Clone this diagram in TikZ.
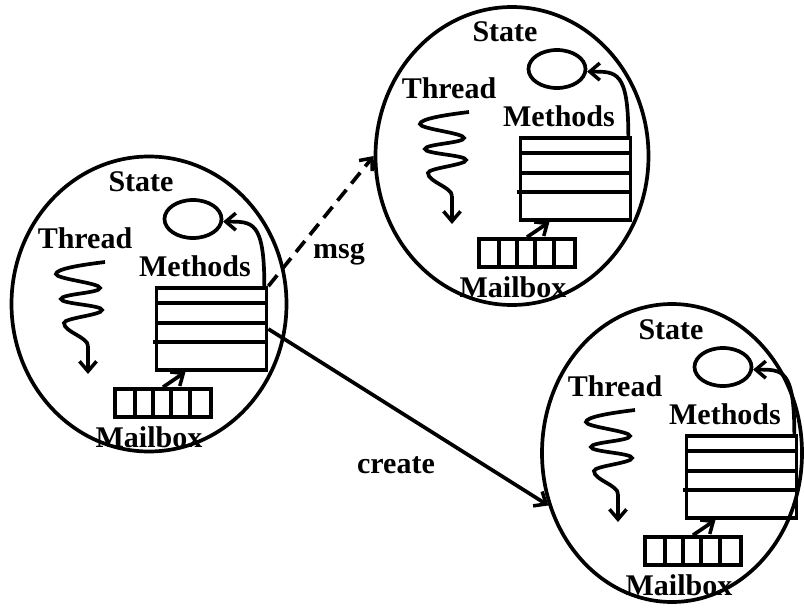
\documentclass[tikz,border=0pt]{standalone}
\usepackage{fontspec}
\setmainfont{Liberation Serif}
\usetikzlibrary{arrows.meta,shapes.geometric}
\tikzset{
  lbl/.style={font=\bfseries\fontsize{30}{32}\selectfont, inner sep=0pt, anchor=base},
  thick3/.style={line width=3.7pt},
  arr/.style={thick3, -{Straight Barb[length=10pt,width=17pt,line width=3.5pt]}},
  actorell/.style={draw, ellipse, thick3, inner sep=0pt},
  boxstyle/.style={draw, rectangle, thick3, inner sep=0pt},
  actor/.pic={
    \node[lbl] (-statelbl) at (141,191) {State};
    \node[draw, ellipse, thick3, inner sep=0pt, minimum width=57pt, minimum height=38pt] (-state) at (193,219) {};
    \node[lbl] (-threadlbl) at (85,248) {Thread};
    \node[lbl] (-methodslbl) at (195,276) {Methods};
    \node[boxstyle, minimum width=110pt, minimum height=82pt] (-methods) at (211.5,329) {};
    \draw[thick3] ([yshift=-17pt]-methods.north west) -- ([yshift=-17pt]-methods.north east);
    \draw[thick3] ([yshift=-37pt]-methods.north west) -- ([yshift=-37pt]-methods.north east);
    \draw[thick3] ([xshift=-2pt,yshift=-56pt]-methods.north west) -- ([xshift=-3pt,yshift=-56pt]-methods.north east);
    \node[boxstyle, minimum width=96pt, minimum height=28pt] (-mailbox) at (163,403) {};
    \foreach \d in {22,40,58,77}{
      \draw[thick3] ([xshift=\d pt]-mailbox.north west) -- ([xshift=\d pt]-mailbox.south west);
    }
    \node[lbl] (-mailboxlbl) at (149,447) {Mailbox};
    \draw[arr] (-mailbox.north) -- ([xshift=-26pt]-methods.south);
    \draw[arr] ([xshift=-4pt]-methods.north east) .. controls +(0,-66) and +(29,0) .. (-state.-5);
    \draw[thick3] (105,262) .. controls (80,265) and (56,269) .. (56,274)
      .. controls (56,279) and (100,283) .. (100,288)
      .. controls (100,293) and (61,294) .. (61,299)
      .. controls (61,304) and (102,305) .. (102,310)
      .. controls (102,315) and (64,318) .. (64,323)
      .. controls (64,332) and (88,337) .. (88,346) coordinate (-tail);
    \draw[arr] (-tail) -- ++(0,28);
  }
}
\begin{document}
\begin{tikzpicture}[x=1pt,y=-1pt]
\useasboundingbox (0,0) rectangle (804,608);
% actor outlines
\node[actorell, minimum width=275pt, minimum height=295pt] (Aell) at (149,304) {};
\node[actorell, minimum width=273pt, minimum height=298pt] (Bell) at (512,156) {};
\node[actorell, minimum width=260pt, minimum height=298pt] (Cell) at (672,453) {};
% actor contents
\pic (A) at (0,0) {actor};
\pic (B) at (364,-150) {actor};
\pic (C) at (530,148) {actor};
% messages
\draw[arr, dash pattern=on 14pt off 8pt] (A-methods.north east) -- (Bell.west);
\node[lbl] (msglbl) at (339,258) {msg};
\draw[arr] (A-methods.east) -- (Cell.203);
\node[lbl] (createlbl) at (396,473) {create};
\end{tikzpicture}
\end{document}
